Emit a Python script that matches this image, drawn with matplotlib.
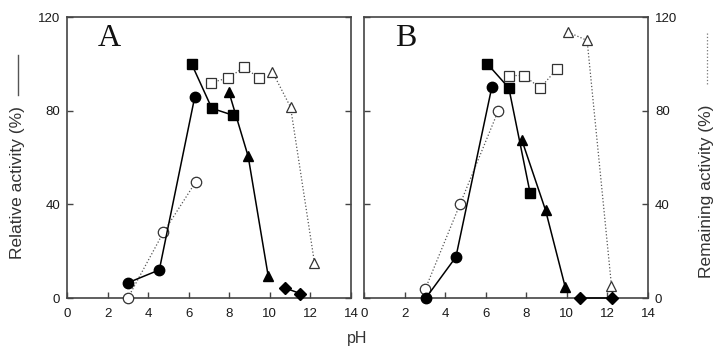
import numpy as np
import matplotlib
matplotlib.use('Agg')
import matplotlib.pyplot as plt
from matplotlib.lines import Line2D

plt.rcParams['font.family'] = ['Liberation Sans', 'DejaVu Sans']

# ---- panel A data (pH, %) ----
a_circ_x = [3.0, 4.55, 6.3]
a_circ_y = [6.5, 12, 86]
a_ocirc_x = [3.0, 4.75, 6.34]
a_ocirc_y = [0, 28, 49.5]
a_sq_x = [6.14, 7.14, 8.2]
a_sq_y = [100, 81, 78]
a_tri_x = [7.98, 8.93, 9.92]
a_tri_y = [88, 60.5, 9.3]
a_dia_x = [10.74, 11.5]
a_dia_y = [4.3, 1.9]
a_osq_x = [7.11, 7.96, 8.72, 9.47]
a_osq_y = [92, 94, 98.5, 94]
a_otri_x = [10.13, 11.02, 12.2]
a_otri_y = [96.5, 81.5, 15]

# ---- panel B data (pH, %) ----
b_circ_x = [3.05, 4.53, 6.3]
b_circ_y = [0, 17.5, 90]
b_ocirc_x = [3.02, 4.73, 6.62]
b_ocirc_y = [3.8, 40, 80]
b_sq_x = [6.08, 7.14, 8.19]
b_sq_y = [100, 89.7, 44.8]
b_tri_x = [7.78, 8.95, 9.92]
b_tri_y = [67.5, 37.5, 4.7]
b_dia_x = [10.64, 12.25]
b_dia_y = [0, 0]
b_osq_x = [7.14, 7.88, 8.69, 9.51]
b_osq_y = [95, 95, 89.7, 97.8]
b_otri_x = [10.07, 11.0, 12.2]
b_otri_y = [113.5, 110, 5.3]

xticks = [0, 2, 4, 6, 8, 10, 12, 14]
yticks = [0, 40, 80, 120]

SOLID = dict(color='black', lw=1.1, ls='-', markersize=7.5, zorder=3)
DOT = dict(color='#555555', lw=0.9, ls=':', markersize=7.5, markerfacecolor='white',
           markeredgecolor='#333333', markeredgewidth=0.9, zorder=3)

fig = plt.figure(figsize=(7.27, 3.47), dpi=100)
axA = fig.add_axes([0.0922, 0.1412, 0.3906, 0.8098])
axB = fig.add_axes([0.5007, 0.1412, 0.3906, 0.8098])


def draw(ax, d, letter):
    ax.plot(d['ocirc'][0], d['ocirc'][1], marker='o', **DOT)
    ax.plot(d['osq'][0], d['osq'][1], marker='s', **DOT)
    ax.plot(d['otri'][0], d['otri'][1], marker='^', **DOT)
    ax.plot(d['circ'][0], d['circ'][1], marker='o', **SOLID)
    ax.plot(d['sq'][0], d['sq'][1], marker='s', **SOLID)
    ax.plot(d['tri'][0], d['tri'][1], marker='^', **SOLID)
    ax.plot(d['dia'][0], d['dia'][1], marker='D', **dict(SOLID, markersize=6.5))
    ax.set_xlim(0, 14)
    ax.set_ylim(0, 120)
    ax.set_xticks(xticks)
    ax.set_yticks(yticks)
    ax.tick_params(direction='in', length=4, width=1, color='#444444',
                   labelsize=9.5, labelcolor='#1a1a1a', left=True, right=True, pad=5)
    ax.tick_params(axis='x', pad=7)
    for s in ax.spines.values():
        s.set_color('#444444')
        s.set_linewidth(1.2)
        s.set_clip_on(False)
    ax.text(0.108, 0.925, letter, transform=ax.transAxes, family='Liberation Serif',
            fontsize=23, va='center', ha='left', color='#111111')
    for l in ax.lines:
        l.set_clip_on(False)


draw(axA, dict(circ=(a_circ_x, a_circ_y), ocirc=(a_ocirc_x, a_ocirc_y), sq=(a_sq_x, a_sq_y),
               tri=(a_tri_x, a_tri_y), dia=(a_dia_x, a_dia_y), osq=(a_osq_x, a_osq_y),
               otri=(a_otri_x, a_otri_y)), 'A')
draw(axB, dict(circ=(b_circ_x, b_circ_y), ocirc=(b_ocirc_x, b_ocirc_y), sq=(b_sq_x, b_sq_y),
               tri=(b_tri_x, b_tri_y), dia=(b_dia_x, b_dia_y), osq=(b_osq_x, b_osq_y),
               otri=(b_otri_x, b_otri_y)), 'B')

axA.tick_params(labelleft=True, labelright=False)
axB.tick_params(labelleft=False, labelright=True)

# axis titles
fig.text(18 / 727, 1 - 183 / 347, 'Relative activity (%)', rotation=90, ha='center',
         va='center', fontsize=12.5, color='#333333')
fig.add_artist(Line2D([18 / 727, 18 / 727], [1 - 55 / 347, 1 - 95 / 347], color='#555555', lw=1))
fig.text(707 / 727, 1 - 191 / 347, 'Remaining activity (%)', rotation=90, ha='center',
         va='center', fontsize=12.5, color='#333333')
fig.add_artist(Line2D([707 / 727, 707 / 727], [1 - 33 / 347, 1 - 85 / 347], color='#777777',
                      lw=0.9, ls=':'))
fig.text(357 / 727, 1 / 347, 'pH', ha='center', va='bottom', fontsize=11.5, color='#333333')

fig.savefig('out.png', dpi=100)
